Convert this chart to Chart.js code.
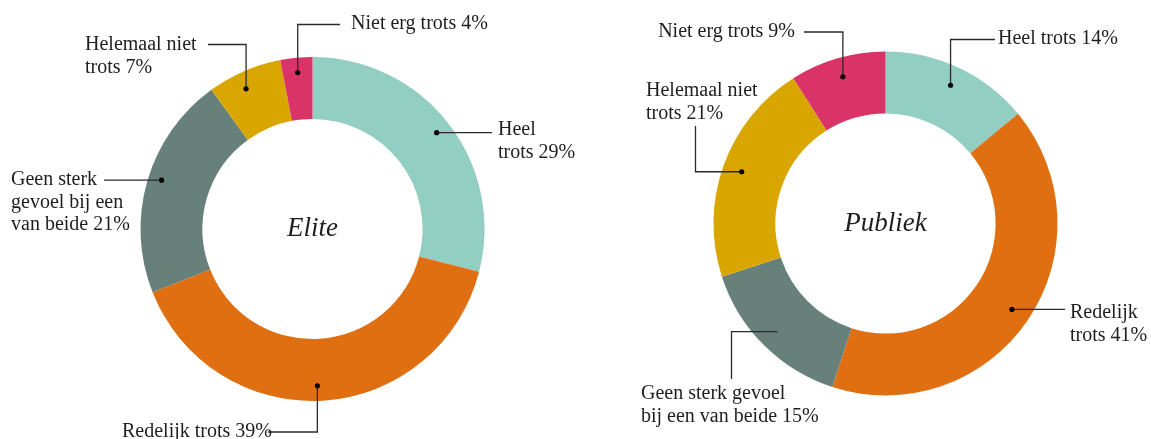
<!DOCTYPE html>
<html>
<head>
<meta charset="utf-8">
<script src="https://cdn.jsdelivr.net/npm/chart.js@4"></script>
<style>
  html, body { margin: 0; padding: 0; background: #fff; }
  .wrap { position: relative; width: 1151px; height: 439px; overflow: hidden; }
  canvas { position: absolute; top: 0; }
  #elite { left: 0; }
  #publiek { left: 576px; }
</style>
</head>
<body>
<div class="wrap">
  <canvas id="elite" width="576" height="439"></canvas>
  <canvas id="publiek" width="575" height="439"></canvas>
</div>
<script>
const categories = ['Heel trots', 'Redelijk trots', 'Geen sterk gevoel bij een van beide', 'Helemaal niet trots', 'Niet erg trots'];
// waarden zoals de ringsegmenten getekend zijn
const eliteValues = [29, 40, 21, 7, 3];
const publiekValues = [14, 41, 15, 21, 9];
// percentages zoals ze in de labels staan
const eliteLabelPct = [29, 39, 21, 7, 4];
const publiekLabelPct = [14, 41, 15, 21, 9];
const kleuren = ['#93cec3', '#e06f12', '#678079', '#d9a600', '#d93368'];

const fontLabel = '20px "Liberation Serif"';
const fontMidden = 'italic 27px "Liberation Serif"';
const tekstKleur = '#1e1e1e';

// labels: {v} wordt vervangen door het percentage
// path: 'h' = horizontaal, 'vh' = eerst verticaal dan horizontaal, 'hv' = andersom
const eliteLabels = [
  { lines: ['Heel', 'trots {v}%'], path: 'h', end: [492, 0], x: 498, y: 130, align: 'left' },
  { lines: ['Redelijk trots {v}%'], path: 'vh', end: [268, 432], x: 272, y: 432, align: 'right', nudge: [-5, 0] },
  { lines: ['Geen sterk', 'gevoel bij een', 'van beide {v}%'], path: 'h', end: [104, 0], x: 11, y: 180, align: 'left', nudge: [0, -5] },
  { lines: ['Helemaal niet', 'trots {v}%'], path: 'vh', end: [208, 44.5], x: 85, y: 45, align: 'left', nudge: [-4, 4] },
  { lines: ['Niet erg trots {v}%'], path: 'vh', end: [340, 24.5], x: 351, y: 24, align: 'left' }
];
const publiekLabels = [
  { lines: ['Heel trots {v}%'], path: 'vh', end: [419, 39.5], x: 422, y: 39, align: 'left' },
  { lines: ['Redelijk', 'trots {v}%'], path: 'h', end: [489, 0], x: 494, y: 313, align: 'left' },
  { lines: ['Geen sterk gevoel', 'bij een van beide {v}%'], path: 'hv', end: [155.5, 379], x: 65, y: 394, align: 'left', dot: false },
  { lines: ['Helemaal niet', 'trots {v}%'], path: 'hv', end: [119.5, 126], x: 70, y: 91, align: 'left' },
  { lines: ['Niet erg trots {v}%'], path: 'vh', end: [228, 32], x: 219, y: 32, align: 'right' }
];

const labelPlugin = {
  id: 'labels',
  afterDraw(chart, args, opts) {
    const c = chart.ctx;
    const meta = chart.getDatasetMeta(0);
    c.save();
    meta.data.forEach((arc, i) => {
      const l = opts.labels[i];
      if (!l) return;
      const p = arc.getProps(['x', 'y', 'startAngle', 'endAngle', 'innerRadius', 'outerRadius'], true);
      const a = (p.startAngle + p.endAngle) / 2;
      const r = p.innerRadius + opts.dotPos * (p.outerRadius - p.innerRadius);
      const n = l.nudge || [0, 0];
      const dx = p.x + Math.cos(a) * r + n[0];
      const dy = p.y + Math.sin(a) * r + n[1];

      c.strokeStyle = '#2a2a2a';
      c.lineWidth = 1.3;
      c.beginPath();
      c.moveTo(dx, dy);
      if (l.path === 'h') {
        c.lineTo(l.end[0], dy);
      } else if (l.path === 'vh') {
        c.lineTo(dx, l.end[1]);
        c.lineTo(l.end[0], l.end[1]);
      } else {
        c.lineTo(l.end[0], dy);
        c.lineTo(l.end[0], l.end[1]);
      }
      c.stroke();

      if (l.dot !== false) {
        c.fillStyle = '#000';
        c.beginPath();
        c.arc(dx, dy, 2.6, 0, Math.PI * 2);
        c.fill();
      }

      c.fillStyle = tekstKleur;
      c.font = fontLabel;
      c.textAlign = l.align;
      c.textBaseline = 'middle';
      l.lines.forEach((t, j) => {
        c.fillText(t.replace('{v}', opts.pct[i]), l.x, l.y + j * 22.5);
      });
    });

    // tekst in het midden
    const p0 = meta.data[0].getProps(['x', 'y'], true);
    c.font = fontMidden;
    c.textAlign = 'center';
    c.textBaseline = 'middle';
    c.fillStyle = tekstKleur;
    c.fillText(opts.title, p0.x, p0.y);
    c.restore();
  }
};

function maakDonut(el, values, pct, labels, title, dotPos, padding) {
  return new Chart(el, {
    type: 'doughnut',
    data: {
      labels: categories,
      datasets: [{
        data: values,
        backgroundColor: kleuren,
        borderWidth: 0
      }]
    },
    options: {
      responsive: false,
      animation: false,
      cutout: '64%',
      layout: { padding: padding },
      plugins: {
        legend: { display: false },
        tooltip: { enabled: false },
        labels: { labels: labels, pct: pct, title: title, dotPos: dotPos }
      }
    },
    plugins: [labelPlugin]
  });
}

maakDonut(document.getElementById('elite'), eliteValues, eliteLabelPct, eliteLabels, 'Elite', 0.76,
  { left: 140.5, right: 91.5, top: 57, bottom: 38 });
maakDonut(document.getElementById('publiek'), publiekValues, publiekLabelPct, publiekLabels, 'Publiek', 0.69,
  { left: 137.5, right: 93.5, top: 51.5, bottom: 43.5 });
</script>
</body>
</html>
